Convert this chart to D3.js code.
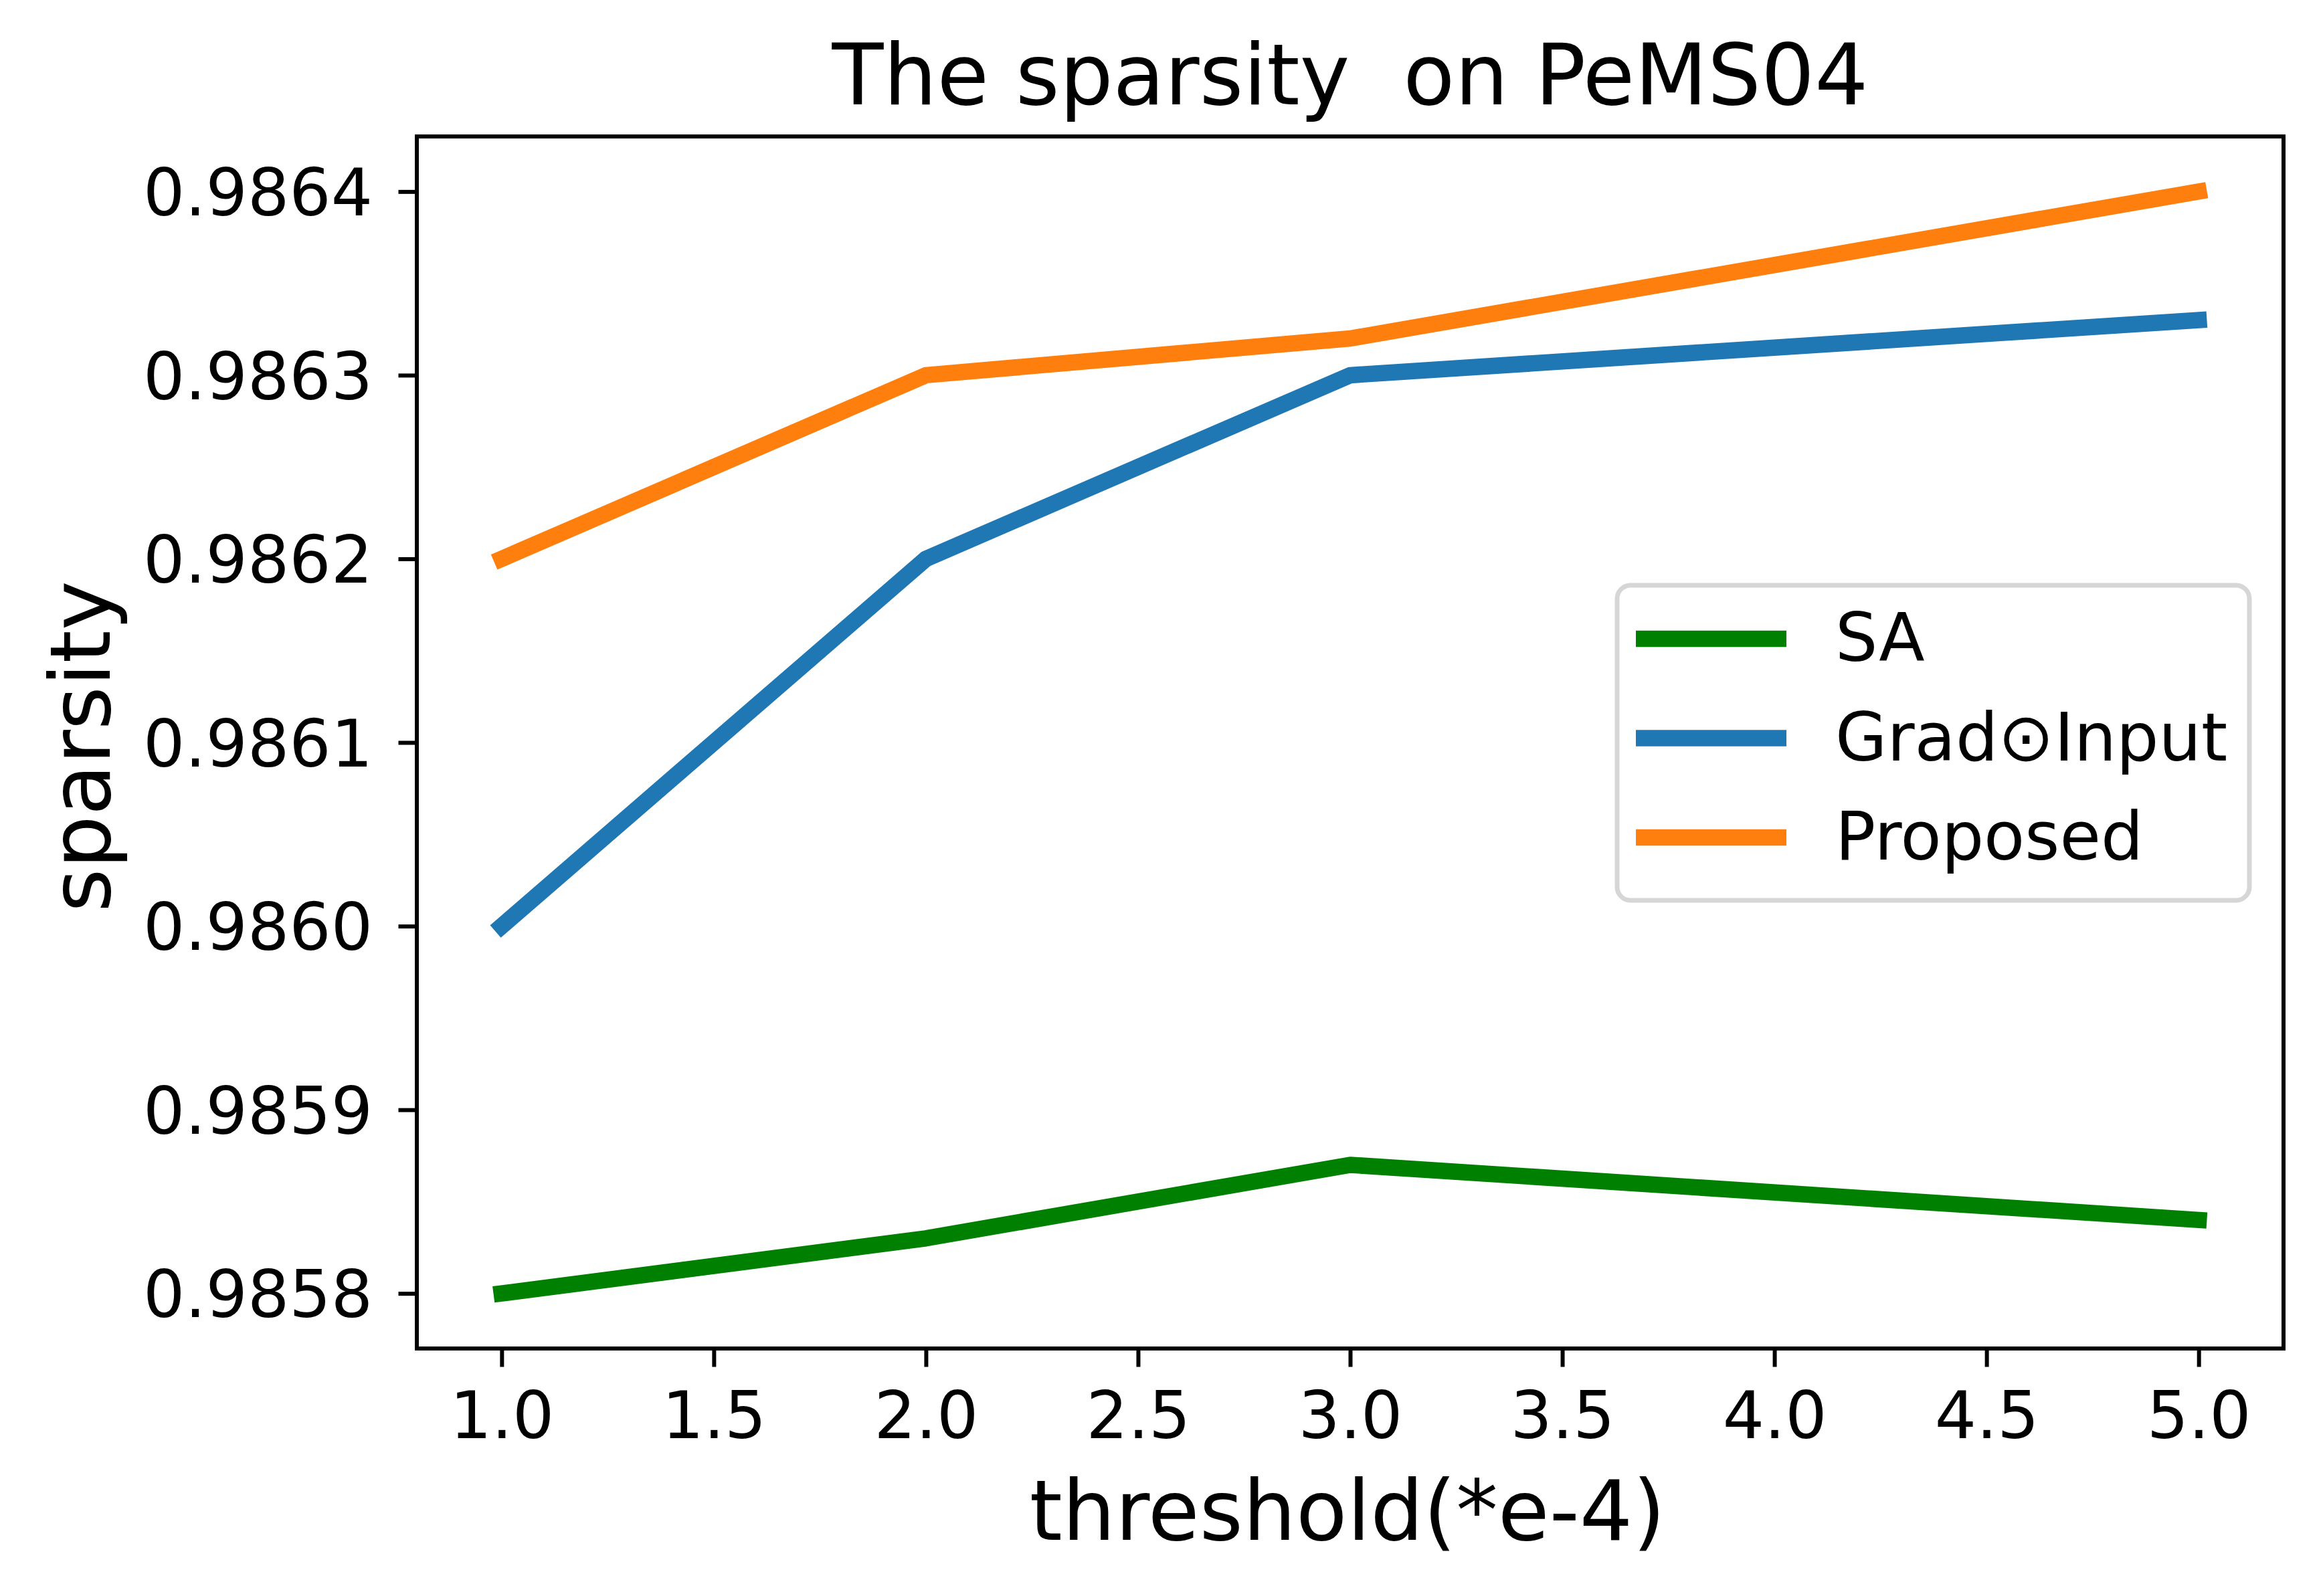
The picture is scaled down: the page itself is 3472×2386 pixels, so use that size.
<!DOCTYPE html>
<html>
<head>
<meta charset="utf-8">
<title>The sparsity on PeMS04</title>
<script src="https://cdn.jsdelivr.net/npm/d3@7"></script>
<style>
  html, body { margin: 0; padding: 0; background: #fff; }
  svg { display: block; }
  text { font-family: "DejaVu Sans", sans-serif; fill: #000; }
</style>
</head>
<body>
<div id="chart"></div>
<script>
'use strict';

// Chart values
var thresholds = [1, 2, 3, 5];
var saValues = [0.98580, 0.98583, 0.98587, 0.98584];
var gradValues = [0.98600, 0.98620, 0.98630, 0.98633];
var proposedValues = [0.98620, 0.98630, 0.98632, 0.98640];
var seriesNames = ['SA', 'Grad\u2299Input', 'Proposed'];
var xTickValues = [1.0, 1.5, 2.0, 2.5, 3.0, 3.5, 4.0, 4.5, 5.0];
var yTickValues = [0.9858, 0.9859, 0.9860, 0.9861, 0.9862, 0.9863, 0.9864];

var width = 3472, height = 2386;
var margin = { left: 623, right: 3472 - 3413, top: 204, bottom: 2386 - 2016 };
var plotW = width - margin.left - margin.right,
  plotH = height - margin.top - margin.bottom;

var colors = ['#008000', '#1f77b4', '#ff7f0e'];
var series = [saValues, gradValues, proposedValues].map(function(vals, i) {
  return {
    name: seriesNames[i],
    color: colors[i],
    points: thresholds.map(function(t, j) { return { x: t, y: vals[j] }; })
  };
});

var svg = d3.select('#chart').append('svg')
  .attr('width', width)
  .attr('height', height);

var g = svg.append('g')
  .attr('transform', 'translate(' + margin.left + ',' + margin.top + ')');

// matplotlib-like 5% margins around the data
var x = d3.scaleLinear().domain([0.8, 5.2]).range([0, plotW]);
var y = d3.scaleLinear().domain([0.98577, 0.98643]).range([plotH, 0]);

/**
 * Axes
 */
var xAxis = g.append('g')
  .attr('transform', 'translate(0,' + plotH + ')')
  .call(d3.axisBottom(x).tickValues(xTickValues).tickFormat(d3.format('.1f')).tickSize(27.5));

var yAxis = g.append('g')
  .call(d3.axisLeft(y).tickValues(yTickValues).tickFormat(d3.format('.4f')).tickSize(27.5));

[xAxis, yAxis].forEach(function(ax) {
  ax.select('.domain').remove();
  ax.selectAll('.tick line').attr('stroke', '#000').attr('stroke-width', 6);
  ax.selectAll('.tick text').style('font-size', '98px').attr('fill', '#000');
});
xAxis.selectAll('.tick text').attr('y', 134).attr('dy', 0);
yAxis.selectAll('.tick text').attr('x', -66).attr('dy', '0.36em');

/**
 * Lines
 */
var line = d3.line()
  .x(function(d) { return x(d.x); })
  .y(function(d) { return y(d.y); });

g.selectAll('.series')
  .data(series)
  .enter().append('path')
  .attr('class', 'series')
  .attr('d', function(d) { return line(d.points); })
  .attr('fill', 'none')
  .attr('stroke', function(d) { return d.color; })
  .attr('stroke-width', 24.5)
  .attr('stroke-linejoin', 'round')
  .attr('stroke-linecap', 'square');

// frame (spines)
g.append('rect')
  .attr('width', plotW)
  .attr('height', plotH)
  .attr('fill', 'none')
  .attr('stroke', '#000')
  .attr('stroke-width', 6);

/**
 * Legend
 */
var legend = svg.append('g').attr('transform', 'translate(2417,875)');
legend.append('rect')
  .attr('width', 945)
  .attr('height', 471)
  .attr('rx', 20)
  .attr('fill', '#fff')
  .attr('fill-opacity', 0.8)
  .attr('stroke', '#d6d6d6')
  .attr('stroke-width', 7);

var item = legend.selectAll('.item')
  .data(series)
  .enter().append('g')
  .attr('class', 'item')
  .attr('transform', function(d, i) { return 'translate(0,' + (80 + i * 148.5) + ')'; });

item.append('line')
  .attr('x1', 28)
  .attr('x2', 253)
  .attr('stroke', function(d) { return d.color; })
  .attr('stroke-width', 24.5);

item.append('text')
  .attr('x', 326)
  .attr('y', 33)
  .style('font-size', '100px')
  .text(function(d) { return d.name; });

/**
 * Titles
 */
svg.append('text')
  .attr('x', margin.left + plotW / 2)
  .attr('y', 156)
  .attr('text-anchor', 'middle')
  .style('font-size', '126px')
  .style('white-space', 'pre')
  .text('The sparsity  on PeMS04');

svg.append('text')
  .attr('x', margin.left + plotW / 2 - 4)
  .attr('y', 2302)
  .attr('text-anchor', 'middle')
  .style('font-size', '125px')
  .text('threshold(*e-4)');

svg.append('text')
  .attr('transform', 'translate(164,' + (margin.top + plotH / 2 + 6) + ') rotate(-90)')
  .attr('text-anchor', 'middle')
  .style('font-size', '125px')
  .text('sparsity');
</script>
</body>
</html>
